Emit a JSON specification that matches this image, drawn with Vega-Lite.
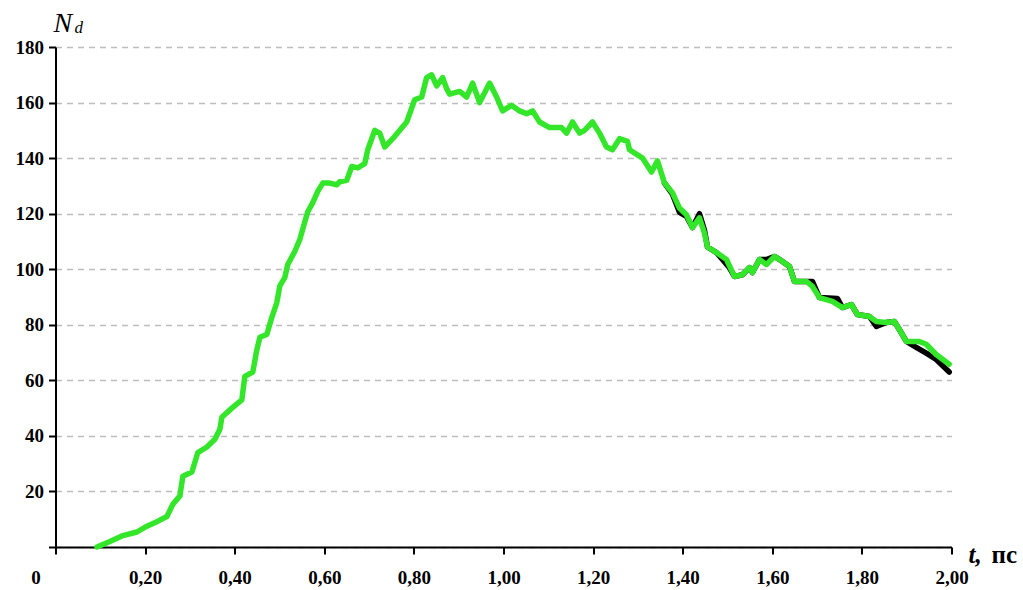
{
  "$schema": "https://vega.github.io/schema/vega-lite/v6.json",
  "width": 896,
  "height": 500,
  "autosize": {"type": "none"},
  "padding": {"left": 55.5, "top": 47, "right": 71.5, "bottom": 43},
  "config": {"view": {"stroke": null}, "font": "Liberation Serif"},
  "datasets": {
    "green": [
      {"t": 0.0926, "N": 0}, {"t": 0.1215, "N": 2}, {"t": 0.1483, "N": 4}, {"t": 0.1818, "N": 5.4},
      {"t": 0.2041, "N": 7.5}, {"t": 0.2286, "N": 9.3}, {"t": 0.2487, "N": 11}, {"t": 0.262, "N": 15.4},
      {"t": 0.2777, "N": 18.4}, {"t": 0.2843, "N": 25.5}, {"t": 0.3044, "N": 27}, {"t": 0.3178, "N": 34},
      {"t": 0.3379, "N": 36}, {"t": 0.3557, "N": 38.8}, {"t": 0.3669, "N": 42.4}, {"t": 0.3714, "N": 46.7},
      {"t": 0.3937, "N": 50}, {"t": 0.4159, "N": 53}, {"t": 0.4226, "N": 61.4}, {"t": 0.4404, "N": 63},
      {"t": 0.4494, "N": 71}, {"t": 0.4561, "N": 75.5}, {"t": 0.4717, "N": 76.5}, {"t": 0.4828, "N": 82.6},
      {"t": 0.494, "N": 88}, {"t": 0.5007, "N": 94}, {"t": 0.5118, "N": 97}, {"t": 0.5185, "N": 101.7},
      {"t": 0.5341, "N": 106.4}, {"t": 0.5453, "N": 110.7}, {"t": 0.5564, "N": 117}, {"t": 0.5631, "N": 120.7},
      {"t": 0.5743, "N": 124}, {"t": 0.5854, "N": 128}, {"t": 0.5966, "N": 131}, {"t": 0.6122, "N": 131},
      {"t": 0.6278, "N": 130.4}, {"t": 0.6345, "N": 131.5}, {"t": 0.6501, "N": 132}, {"t": 0.6613, "N": 137},
      {"t": 0.6747, "N": 136.5}, {"t": 0.6903, "N": 138}, {"t": 0.697, "N": 143}, {"t": 0.7126, "N": 150},
      {"t": 0.7237, "N": 149}, {"t": 0.7349, "N": 144}, {"t": 0.7527, "N": 147}, {"t": 0.7839, "N": 153},
      {"t": 0.8017, "N": 161}, {"t": 0.8174, "N": 162}, {"t": 0.8285, "N": 169}, {"t": 0.8397, "N": 170},
      {"t": 0.8508, "N": 166}, {"t": 0.8642, "N": 169}, {"t": 0.8731, "N": 165}, {"t": 0.8798, "N": 163},
      {"t": 0.9021, "N": 164}, {"t": 0.9177, "N": 162}, {"t": 0.9311, "N": 167}, {"t": 0.9467, "N": 160},
      {"t": 0.969, "N": 167}, {"t": 0.9846, "N": 162}, {"t": 0.998, "N": 157}, {"t": 1.018, "N": 159},
      {"t": 1.0359, "N": 157}, {"t": 1.0515, "N": 156}, {"t": 1.0649, "N": 157}, {"t": 1.0805, "N": 153},
      {"t": 1.1028, "N": 151}, {"t": 1.1296, "N": 151}, {"t": 1.1407, "N": 149}, {"t": 1.1541, "N": 153},
      {"t": 1.1697, "N": 149}, {"t": 1.1809, "N": 150}, {"t": 1.1987, "N": 153}, {"t": 1.2143, "N": 149},
      {"t": 1.23, "N": 144}, {"t": 1.2433, "N": 143}, {"t": 1.259, "N": 147}, {"t": 1.2768, "N": 146},
      {"t": 1.2813, "N": 143}, {"t": 1.3103, "N": 140}, {"t": 1.3304, "N": 135}, {"t": 1.3437, "N": 139},
      {"t": 1.3594, "N": 131}, {"t": 1.3772, "N": 127.5}, {"t": 1.3928, "N": 122}, {"t": 1.4084, "N": 119.6},
      {"t": 1.4218, "N": 115}, {"t": 1.4374, "N": 118.5}, {"t": 1.4486, "N": 113}, {"t": 1.4553, "N": 108},
      {"t": 1.4754, "N": 106}, {"t": 1.4977, "N": 103.5}, {"t": 1.5155, "N": 97.4}, {"t": 1.5334, "N": 98},
      {"t": 1.549, "N": 100.6}, {"t": 1.5557, "N": 98.8}, {"t": 1.5714, "N": 103.5}, {"t": 1.587, "N": 101.7},
      {"t": 1.6048, "N": 104.6}, {"t": 1.6226, "N": 102.8}, {"t": 1.6383, "N": 101}, {"t": 1.6494, "N": 95.6},
      {"t": 1.6762, "N": 95.6}, {"t": 1.6896, "N": 93.8}, {"t": 1.7052, "N": 89.8}, {"t": 1.7342, "N": 88.4},
      {"t": 1.7565, "N": 86.2}, {"t": 1.7766, "N": 87.3}, {"t": 1.79, "N": 83.7}, {"t": 1.8167, "N": 83},
      {"t": 1.8323, "N": 81.2}, {"t": 1.8546, "N": 80.8}, {"t": 1.8724, "N": 81.2}, {"t": 1.8836, "N": 78.3},
      {"t": 1.8992, "N": 74}, {"t": 1.9282, "N": 74}, {"t": 1.9436, "N": 73}, {"t": 1.9659, "N": 69.3},
      {"t": 1.9949, "N": 65.8}
    ],
    "black": [
      {"t": 1.3594, "N": 131}, {"t": 1.3772, "N": 127}, {"t": 1.3928, "N": 120.5}, {"t": 1.4084, "N": 119},
      {"t": 1.4218, "N": 115}, {"t": 1.4374, "N": 120}, {"t": 1.4486, "N": 114}, {"t": 1.4553, "N": 108},
      {"t": 1.4754, "N": 106}, {"t": 1.5044, "N": 100.5}, {"t": 1.5155, "N": 97.4}, {"t": 1.5334, "N": 98},
      {"t": 1.549, "N": 100.6}, {"t": 1.5557, "N": 98.8}, {"t": 1.5714, "N": 103.5}, {"t": 1.587, "N": 103.5},
      {"t": 1.6048, "N": 104.6}, {"t": 1.6226, "N": 102.8}, {"t": 1.6383, "N": 101}, {"t": 1.6494, "N": 95.6},
      {"t": 1.6762, "N": 95.6}, {"t": 1.6896, "N": 95.6}, {"t": 1.7052, "N": 89.8}, {"t": 1.7453, "N": 89.5},
      {"t": 1.7565, "N": 86.2}, {"t": 1.7766, "N": 87.3}, {"t": 1.79, "N": 83.7}, {"t": 1.8167, "N": 83},
      {"t": 1.8323, "N": 79.4}, {"t": 1.8546, "N": 80.8}, {"t": 1.8724, "N": 81.2}, {"t": 1.8836, "N": 78.3},
      {"t": 1.8992, "N": 74}, {"t": 1.9213, "N": 71.9}, {"t": 1.9436, "N": 69.8}, {"t": 1.9659, "N": 67.5},
      {"t": 1.9949, "N": 63}
    ],
    "labels": [
      {"label": "N", "t": 0, "N": 180},
      {"label": "d", "t": 0, "N": 180},
      {"label": "t,", "t": 2, "N": 0},
      {"label": "пс", "t": 2, "N": 0}
    ]
  },
  "layer": [
    {
      "data": {"name": "black"},
      "mark": {"type": "line", "color": "black", "strokeWidth": 5.5, "strokeJoin": "round", "strokeCap": "round"},
      "encoding": {
        "x": {
          "field": "t", "type": "quantitative",
          "scale": {"domain": [0, 2], "nice": false},
          "axis": {
            "values": [0, 0.2, 0.4, 0.6, 0.8, 1.0, 1.2, 1.4, 1.6, 1.8, 2.0],
            "labelExpr": "datum.value == 0 ? '0' : replace(format(datum.value, '.2f'), '.', ',')",
            "title": null, "grid": false,
            "domainColor": "black", "domainWidth": 2,
            "tickColor": "black", "tickWidth": 2, "tickSize": 7,
            "labelFont": "Liberation Serif", "labelFontWeight": "bold", "labelFontSize": 19, "labelColor": "black",
            "labelPadding": 14, "labelFlush": false, "labelOverlap": false,
            "labelOffset": {"condition": {"test": "datum.value == 0", "value": -20}, "value": 0}
          }
        },
        "y": {
          "field": "N", "type": "quantitative",
          "scale": {"domain": [0, 180], "nice": false},
          "axis": {
            "values": [0, 20, 40, 60, 80, 100, 120, 140, 160, 180],
            "labelExpr": "datum.value == 0 ? '' : datum.label",
            "title": null, "grid": true,
            "gridDash": [6, 5], "gridColor": "#bdbdbd", "gridWidth": 1.5,
            "domainColor": "black", "domainWidth": 2,
            "tickColor": "black", "tickWidth": 2, "tickSize": 7,
            "labelFont": "Liberation Serif", "labelFontWeight": "bold", "labelFontSize": 19, "labelColor": "black",
            "labelPadding": 5, "labelFlush": false, "labelOverlap": false
          }
        }
      }
    },
    {
      "data": {"name": "green"},
      "mark": {"type": "line", "color": "#33e62a", "strokeWidth": 5.5, "strokeJoin": "round", "strokeCap": "round"},
      "encoding": {
        "x": {"field": "t", "type": "quantitative"},
        "y": {"field": "N", "type": "quantitative"}
      }
    },
    {
      "data": {"name": "labels"},
      "transform": [{"filter": "datum.label == 'N'"}],
      "mark": {"type": "text", "font": "Liberation Serif", "fontStyle": "italic", "fontSize": 28, "align": "left", "baseline": "alphabetic", "dx": -2, "dy": -15, "color": "black"},
      "encoding": {"x": {"field": "t", "type": "quantitative"}, "y": {"field": "N", "type": "quantitative"}, "text": {"field": "label"}}
    },
    {
      "data": {"name": "labels"},
      "transform": [{"filter": "datum.label == 'd'"}],
      "mark": {"type": "text", "font": "Liberation Serif", "fontStyle": "italic", "fontSize": 17, "align": "left", "baseline": "alphabetic", "dx": 19, "dy": -14, "color": "black"},
      "encoding": {"x": {"field": "t", "type": "quantitative"}, "y": {"field": "N", "type": "quantitative"}, "text": {"field": "label"}}
    },
    {
      "data": {"name": "labels"},
      "transform": [{"filter": "datum.label == 't,'"}],
      "mark": {"type": "text", "font": "Liberation Serif", "fontStyle": "italic", "fontWeight": "bold", "fontSize": 25, "align": "left", "baseline": "alphabetic", "dx": 17, "dy": 16, "color": "black"},
      "encoding": {"x": {"field": "t", "type": "quantitative"}, "y": {"field": "N", "type": "quantitative"}, "text": {"field": "label"}}
    },
    {
      "data": {"name": "labels"},
      "transform": [{"filter": "datum.label == 'пс'"}],
      "mark": {"type": "text", "font": "Liberation Serif", "fontWeight": "bold", "fontSize": 25, "align": "left", "baseline": "alphabetic", "dx": 40, "dy": 16, "color": "black"},
      "encoding": {"x": {"field": "t", "type": "quantitative"}, "y": {"field": "N", "type": "quantitative"}, "text": {"field": "label"}}
    }
  ]
}
